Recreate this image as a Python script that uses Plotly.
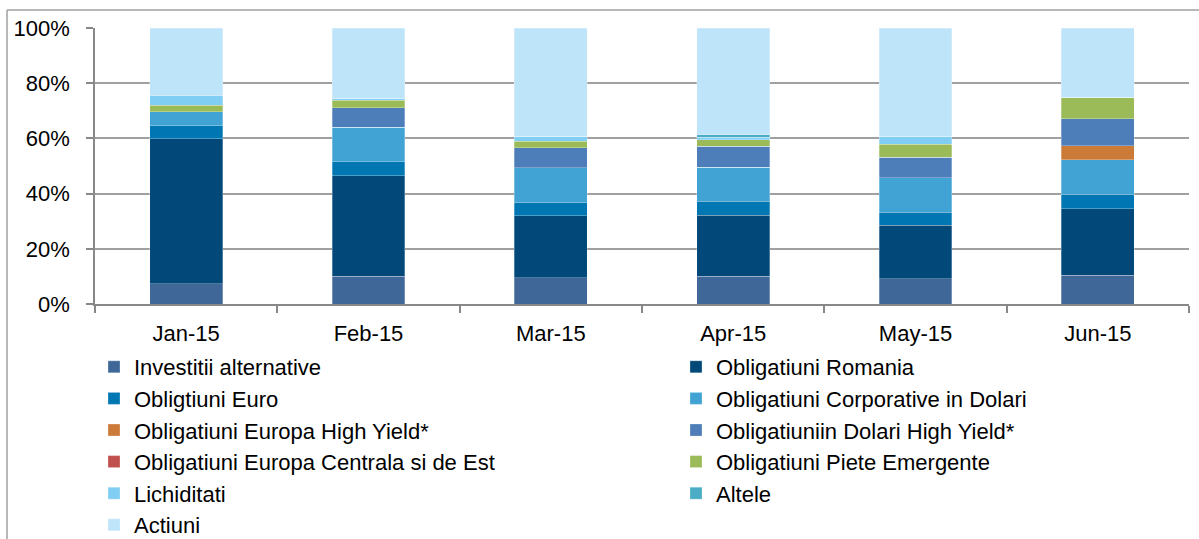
import plotly.graph_objects as go

months = ["Jan-15", "Feb-15", "Mar-15", "Apr-15", "May-15", "Jun-15"]

investitii_alternative = [7.4, 10.0, 9.6, 10.0, 9.2, 10.4]
obligatiuni_romania = [52.5, 36.5, 22.4, 22.2, 19.3, 24.2]
obligtiuni_euro = [4.7, 5.0, 4.7, 5.0, 4.7, 5.1]
corporative_dolari = [5.0, 12.5, 12.6, 12.3, 12.6, 12.6]
europa_high_yield = [0, 0, 0, 0, 0, 5.0]
dolari_high_yield = [0, 7.1, 7.3, 7.6, 7.4, 9.8]
europa_centrala = [0, 0, 0, 0, 0, 0]
piete_emergente = [2.5, 2.7, 2.4, 2.4, 4.7, 7.7]
lichiditati = [3.3, 0.7, 1.8, 1.0, 2.9, 0.2]
altele = [0, 0, 0, 0.8, 0, 0]
actiuni = [24.6, 25.5, 39.2, 38.7, 39.2, 25.0]

series = [
    ("Investitii alternative", investitii_alternative, "#3F6899", "legend"),
    ("Obligatiuni Romania", obligatiuni_romania, "#02497A", "legend2"),
    ("Obligtiuni Euro", obligtiuni_euro, "#0077B3", "legend"),
    ("Obligatiuni Corporative in Dolari", corporative_dolari, "#40A3D4", "legend2"),
    ("Obligatiuni Europa High Yield*", europa_high_yield, "#CC7A38", "legend"),
    ("Obligatiuniin Dolari High Yield*", dolari_high_yield, "#4D7EBA", "legend2"),
    ("Obligatiuni Europa Centrala si de Est", europa_centrala, "#C0504D", "legend"),
    ("Obligatiuni Piete Emergente", piete_emergente, "#9BBB59", "legend2"),
    ("Lichiditati", lichiditati, "#80CEF3", "legend"),
    ("Altele", altele, "#4BACC6", "legend2"),
    ("Actiuni", actiuni, "#BDE4F8", "legend"),
]

FONT = "Liberation Sans, Arial, sans-serif"
fig = go.Figure()
for name, vals, color, lg in series:
    fig.add_trace(go.Bar(
        x=months, y=vals, name=name, legend=lg,
        marker=dict(color=color, line=dict(color="rgba(255,255,255,0.35)", width=0.8)),
    ))

W, H = 1199, 539
L, R, T, B = 95, 10, 28, 235
pw, ph = W - L - R, H - T - B

def px_x(x):
    return (x - L) / pw

def px_y(y):
    return (H - B - y) / ph

legend_common = dict(
    orientation="v", traceorder="normal", xanchor="left", yanchor="top",
    font=dict(family=FONT, size=22, color="#000000"),
    bgcolor="rgba(0,0,0,0)", itemclick=False, itemdoubleclick=False,
)

fig.update_layout(
    width=W, height=H,
    margin=dict(l=L, r=R, t=T, b=B, autoexpand=False),
    barmode="stack", bargap=0.6,
    plot_bgcolor="white", paper_bgcolor="white",
    font=dict(family=FONT, size=22, color="#000000"),
    legend=dict(x=px_x(94), y=px_y(346), **legend_common),
    legend2=dict(x=px_x(676), y=px_y(346), **legend_common),
    xaxis=dict(
        showline=True, linecolor="#888888", linewidth=1.5,
        ticks="outside", tickson="boundaries", ticklen=7, tickcolor="#888888",
        tickwidth=1.5, showgrid=False, ticklabelstandoff=9,
        tickfont=dict(family=FONT, size=22, color="#000000"),
    ),
    yaxis=dict(
        range=[0, 100], tickvals=[0, 20, 40, 60, 80, 100],
        ticktext=["0%", "20%", "40%", "60%", "80%", "100%"],
        showline=True, linecolor="#888888", linewidth=1.5,
        ticks="outside", ticklen=7, tickcolor="#888888", tickwidth=1.5,
        showgrid=True, gridcolor="#A0A0A0", gridwidth=1.5,
        ticklabelstandoff=12, zeroline=False,
        tickfont=dict(family=FONT, size=22, color="#000000"),
    ),
    shapes=[
        dict(type="line", xref="paper", yref="paper",
             x0=px_x(7), x1=px_x(7), y0=px_y(10), y1=px_y(545),
             line=dict(color="#A0A0A0", width=1.5)),
        dict(type="line", xref="paper", yref="paper",
             x0=px_x(7), x1=px_x(1205), y0=px_y(10), y1=px_y(10),
             line=dict(color="#A0A0A0", width=1.5)),
    ],
)

fig.write_html(
    "out.html",
    config={"displayModeBar": False},
    post_script="document.body.style.margin='0';document.body.style.overflow='hidden';",
)
